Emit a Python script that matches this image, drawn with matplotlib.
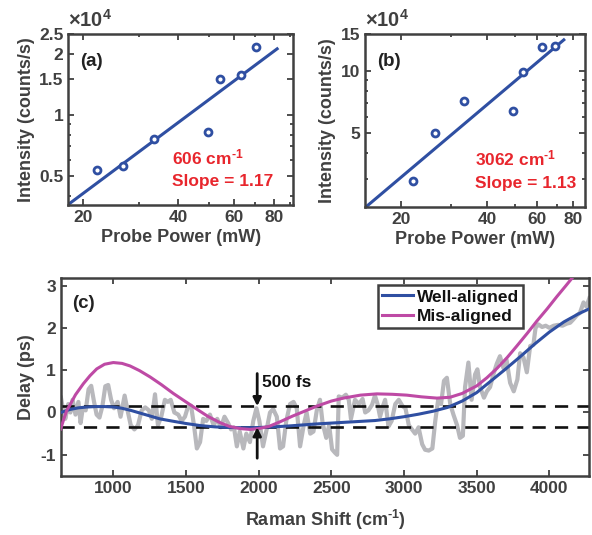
import matplotlib
matplotlib.use('Agg')
import matplotlib.pyplot as plt
from matplotlib.ticker import FixedLocator, NullFormatter, LogLocator

plt.rcParams['font.family'] = ['Liberation Sans', 'DejaVu Sans']
plt.rcParams['font.weight'] = 'bold'
plt.rcParams['mathtext.fontset'] = 'custom'
plt.rcParams['mathtext.rm'] = 'Liberation Sans'
plt.rcParams['mathtext.bf'] = 'Liberation Sans:bold'
plt.rcParams['mathtext.default'] = 'bf'
plt.rcParams['axes.unicode_minus'] = False

# panel (a): 606 cm-1
power_a = [22.1, 26.7, 33.6, 49.8, 54.2, 63.3, 70.3]
inten_a = [5340, 5630, 7590, 8250, 15040, 15690, 21560]
fit_a_x = [17.9, 82]
fit_a_y = [3600, 21200]

# panel (b): 3062 cm-1
power_b = [22.0, 26.4, 33.3, 49.2, 53.6, 62.4, 69.0]
inten_b = [29300, 49800, 71700, 64100, 98600, 130300, 131800]
fit_b_x = [15.1, 74.2]
fit_b_y = [22000, 141000]

# panel (c): delay vs Raman shift
raw_x = [640, 655, 670, 690, 705, 720, 740, 760, 775, 790, 810, 830, 848, 865, 885, 905, 925, 945,
         965, 985, 1005, 1030, 1050, 1078, 1095, 1120, 1145, 1170, 1195, 1220, 1245, 1265, 1287,
         1307, 1330, 1355, 1375, 1395, 1420, 1447, 1470, 1493, 1515, 1535, 1555, 1575, 1597, 1618,
         1640, 1665, 1690, 1715, 1740, 1765, 1790, 1810, 1830, 1850, 1870, 1895, 1915, 1940, 1963,
         1985, 2005, 2030, 2055, 2078, 2100, 2125, 2147, 2168, 2190, 2216, 2240, 2262, 2285, 2310,
         2330, 2355, 2377, 2400, 2422, 2440, 2465, 2485, 2505, 2525, 2540, 2551, 2575, 2600, 2620,
         2635, 2663, 2690, 2715, 2733, 2755, 2780, 2800, 2818, 2835, 2855, 2870, 2893, 2915, 2940,
         2964, 2990, 3010, 3033, 3055, 3077, 3100, 3125, 3145, 3170, 3195, 3215, 3235, 3255, 3275,
         3295, 3318, 3340, 3365, 3385, 3405, 3420, 3443, 3465, 3489, 3505, 3523, 3550, 3570, 3592,
         3615, 3638, 3660, 3684, 3705, 3730, 3755, 3780, 3799, 3822, 3845, 3868, 3890, 3905, 3925,
         3950, 3975, 4000, 4030, 4060, 4090, 4120, 4143, 4165, 4190, 4210, 4235, 4255, 4275]
raw_y = [0.35, 0.05, -0.15, 0.2, 0.0, 0.3, -0.05, 0.25, -0.25, 0.1, 0.05, 0.55, 0.63, 0.3, -0.05,
         -0.12, 0.15, 0.62, 0.65, 0.3, 0.1, 0.25, -0.1, 0.4, 0.1, -0.3, -0.4, -0.3, 0.05, 0.12, 0.05,
         -0.15, 0.43, -0.3, -0.1, 0.3, 0.25, 0.3, 0.0, -0.05, -0.2, -0.1, 0.15, 0.16, -0.3, -0.85,
         -0.7, -0.15, -0.2, -0.05, -0.3, -0.15, -0.35, -0.1, -0.25, -0.4, -0.35, -0.8, -0.45, -0.85,
         -0.5, -0.7, -0.2, 0.1, -0.2, -0.8, -0.4, 0.0, 0.08, -0.1, -0.85, -0.8, -0.2, 0.2, 0.25, 0.1,
         -0.8, -0.3, 0.0, -0.5, -0.45, 0.05, 0.3, -0.25, -0.6, -0.3, -0.87, -0.95, -1.0, 0.38, 0.35,
         0.42, 0.3, -0.15, 0.3, 0.2, 0.32, 0.0, 0.05, 0.18, 0.4, 0.2, -0.1, 0.15, 0.3, -0.33, -0.2,
         0.2, 0.3, 0.15, 0.1, -0.3, -0.4, -0.5, -0.35, -0.75, -0.88, -0.9, -0.85, -0.2, 0.3, 0.2,
         0.75, 0.82, 0.2, -0.05, -0.3, -0.6, -0.55, 0.6, 1.18, 0.3, 0.9, 1.02, 0.6, 0.35, 0.5, 0.6,
         0.9, 1.15, 1.33, 1.05, 1.25, 0.7, 0.5, 0.78, 1.4, 1.3, 0.95, 1.57, 1.6, 2.0, 2.08, 2.02,
         2.05, 2.0, 2.05, 2.07, 2.05, 2.1, 2.12, 2.2, 2.3, 2.35, 2.6, 2.5, 2.7]

well_x = [640, 700, 760, 820, 880, 940, 1000, 1060, 1120, 1180, 1250, 1320, 1400, 1500, 1600, 1700,
          1800, 1900, 2000, 2100, 2200, 2300, 2400, 2500, 2600, 2700, 2800, 2900, 3000, 3100, 3200,
          3300, 3400, 3500, 3600, 3700, 3800, 3900, 4000, 4100, 4200, 4275]
well_y = [0.0, 0.07, 0.11, 0.13, 0.14, 0.14, 0.13, 0.10, 0.05, -0.01, -0.08, -0.15, -0.2, -0.26,
          -0.31, -0.34, -0.355, -0.36, -0.355, -0.34, -0.32, -0.295, -0.27, -0.25, -0.23, -0.21,
          -0.19, -0.15, -0.1, -0.04, 0.03, 0.12, 0.27, 0.47, 0.75, 1.03, 1.32, 1.62, 1.9, 2.14,
          2.33, 2.45]

mis_x = [638, 660, 680, 702, 740, 794, 840, 886, 940, 1000, 1060, 1115, 1180, 1253, 1330, 1413,
         1500, 1574, 1650, 1734, 1800, 1872, 1940, 2000, 2070, 2147, 2230, 2308, 2400, 2500, 2583,
         2700, 2813, 2920, 3019, 3120, 3226, 3317, 3400, 3501, 3570, 3639, 3710, 3776, 3850, 3914,
         3985, 4052, 4110, 4155, 4200]
mis_y = [-0.39, -0.15, 0.05, 0.18, 0.42, 0.68, 0.87, 1.03, 1.14, 1.18, 1.16, 1.1, 0.99, 0.84, 0.66,
         0.45, 0.25, 0.08, -0.09, -0.24, -0.33, -0.38, -0.4, -0.38, -0.33, -0.22, -0.09, 0.02, 0.15,
         0.27, 0.34, 0.41, 0.44, 0.43, 0.41, 0.37, 0.34, 0.36, 0.45, 0.63, 0.82, 1.04, 1.3, 1.57,
         1.88, 2.16, 2.45, 2.74, 2.98, 3.17, 3.36]

levels = [0.15, -0.35]

blue = '#2F4FA2'
magenta = '#BE4AA5'
red = '#E8262D'
gray_txt = '#404040'
inv_cm = r'cm$^{\text{-1}}$'


def style_axes(ax):
    for s in ax.spines.values():
        s.set_linewidth(1.8)
        s.set_color(gray_txt)
    ax.tick_params(which='both', direction='in', top=True, right=True,
                   colors=gray_txt, width=1.3, labelsize=12.5)
    ax.tick_params(which='major', length=4.5)
    ax.tick_params(which='minor', length=2.5)
    for lab in ax.get_xticklabels() + ax.get_yticklabels():
        lab.set_fontweight('bold')


fig = plt.figure(figsize=(5.92, 5.35), dpi=100)

# ---------- (a) ----------
ax1 = fig.add_axes([0.1154, 0.6168, 0.3795, 0.3191])
ax1.set_xscale('log')
ax1.set_yscale('log')
ax1.plot(fit_a_x, fit_a_y, color=blue, lw=2.2)
ax1.plot(power_a, inten_a, 'o', mfc='white', mec=blue, mew=2.0, ms=5.0)
ax1.set_xlim(18, 92)
ax1.set_ylim(3600, 25000)
ax1.xaxis.set_major_locator(FixedLocator([20, 40, 60, 80]))
ax1.set_xticklabels(['20', '40', '60', '80'])
ax1.xaxis.set_minor_locator(LogLocator(subs=range(2, 10)))
ax1.xaxis.set_minor_formatter(NullFormatter())
ax1.yaxis.set_major_locator(FixedLocator([5000, 10000, 15000, 20000, 25000]))
ax1.set_yticklabels(['0.5', '1', '1.5', '2', '2.5'])
ax1.yaxis.set_minor_locator(LogLocator(subs=range(2, 10)))
ax1.yaxis.set_minor_formatter(NullFormatter())
style_axes(ax1)
ax1.set_xlabel('Probe Power (mW)', fontsize=13, color=gray_txt, fontweight='bold', labelpad=3)
ax1.set_ylabel('Intensity (counts/s)', fontsize=13, color=gray_txt, fontweight='bold', labelpad=3)
ax1.text(0.0, 1.02, r'$\mathrm{\times 10^{4}}$', transform=ax1.transAxes, fontsize=14.5,
         color=gray_txt, ha='left', va='bottom')
ax1.text(0.052, 0.84, '(a)', transform=ax1.transAxes, fontsize=13.5, fontweight='bold',
         color='#222222', va='center')
ax1.text(0.461, 0.281, '606 ' + inv_cm, transform=ax1.transAxes, fontsize=12.5,
         fontweight='bold', color=red, va='center')
ax1.text(0.461, 0.135, 'Slope = 1.17', transform=ax1.transAxes, fontsize=12.5,
         fontweight='bold', color=red, va='center')

# ---------- (b) ----------
ax2 = fig.add_axes([0.6166, 0.6131, 0.3716, 0.3228])
ax2.set_xscale('log')
ax2.set_yscale('log')
ax2.plot(fit_b_x, fit_b_y, color=blue, lw=2.2)
ax2.plot(power_b, inten_b, 'o', mfc='white', mec=blue, mew=2.0, ms=5.0)
ax2.set_xlim(15, 88)
ax2.set_ylim(22000, 150000)
ax2.xaxis.set_major_locator(FixedLocator([20, 40, 60, 80]))
ax2.set_xticklabels(['20', '40', '60', '80'])
ax2.xaxis.set_minor_locator(LogLocator(subs=range(2, 10)))
ax2.xaxis.set_minor_formatter(NullFormatter())
ax2.yaxis.set_major_locator(FixedLocator([50000, 100000, 150000]))
ax2.set_yticklabels(['5', '10', '15'])
ax2.yaxis.set_minor_locator(LogLocator(subs=range(2, 10)))
ax2.yaxis.set_minor_formatter(NullFormatter())
style_axes(ax2)
ax2.set_xlabel('Probe Power (mW)', fontsize=13, color=gray_txt, fontweight='bold', labelpad=3)
ax2.set_ylabel('Intensity (counts/s)', fontsize=13, color=gray_txt, fontweight='bold', labelpad=3)
ax2.text(0.0, 1.02, r'$\mathrm{\times 10^{4}}$', transform=ax2.transAxes, fontsize=14.5,
         color=gray_txt, ha='left', va='bottom')
ax2.text(0.055, 0.84, '(b)', transform=ax2.transAxes, fontsize=13.5, fontweight='bold',
         color='#222222', va='center')
ax2.text(0.5, 0.281, '3062 ' + inv_cm, transform=ax2.transAxes, fontsize=12.5,
         fontweight='bold', color=red, va='center')
ax2.text(0.5, 0.135, 'Slope = 1.13', transform=ax2.transAxes, fontsize=12.5,
         fontweight='bold', color=red, va='center')

# ---------- (c) ----------
ax3 = fig.add_axes([0.1025, 0.1103, 0.893, 0.3695])
ax3.plot(raw_x, raw_y, color='#B8B8BC', lw=3.0, zorder=1)
for lv in levels:
    ax3.axhline(lv, color='#111111', lw=1.9, dashes=(5, 3.5), zorder=2)
l1, = ax3.plot(well_x, well_y, color=blue, lw=2.2, zorder=3, label='Well-aligned')
l2, = ax3.plot(mis_x, mis_y, color=magenta, lw=2.2, zorder=3, label='Mis-aligned')
ax3.annotate('', xy=(1990, levels[0]), xytext=(1990, 0.92),
             arrowprops=dict(arrowstyle='-|>', color='#111111', lw=2, mutation_scale=12,
                             shrinkA=0, shrinkB=0), zorder=4)
ax3.annotate('', xy=(1990, levels[1]), xytext=(1990, -1.08),
             arrowprops=dict(arrowstyle='-|>', color='#111111', lw=2, mutation_scale=12,
                             shrinkA=0, shrinkB=0), zorder=4)
ax3.text(2020, 0.7, '500 fs', fontsize=12.5, fontweight='bold', color='#111111', va='center')
ax3.set_xlim(638, 4275)
ax3.set_ylim(-1.5, 3.17)
ax3.set_xticks([1000, 1500, 2000, 2500, 3000, 3500, 4000])
ax3.set_yticks([-1, 0, 1, 2, 3])
style_axes(ax3)
ax3.set_xlabel('Raman Shift (' + inv_cm + ')', fontsize=13, color=gray_txt, fontweight='bold',
               labelpad=9)
ax3.set_ylabel('Delay (ps)', fontsize=13, color=gray_txt, fontweight='bold', labelpad=4)
ax3.text(0.021, 0.875, '(c)', transform=ax3.transAxes, fontsize=13.5, fontweight='bold',
         color='#222222', va='center')
leg = ax3.legend(handles=[l1, l2], loc='upper right', bbox_to_anchor=(0.875, 0.966),
                 fancybox=False, framealpha=1, edgecolor=gray_txt, fontsize=12.5,
                 handlelength=1.8, handletextpad=0.2, borderpad=0.25, labelspacing=0.25,
                 borderaxespad=0)
leg.get_frame().set_linewidth(1.8)
for t in leg.get_texts():
    t.set_fontweight('bold')
    t.set_color('#111111')

fig.savefig('out.png', dpi=100)
